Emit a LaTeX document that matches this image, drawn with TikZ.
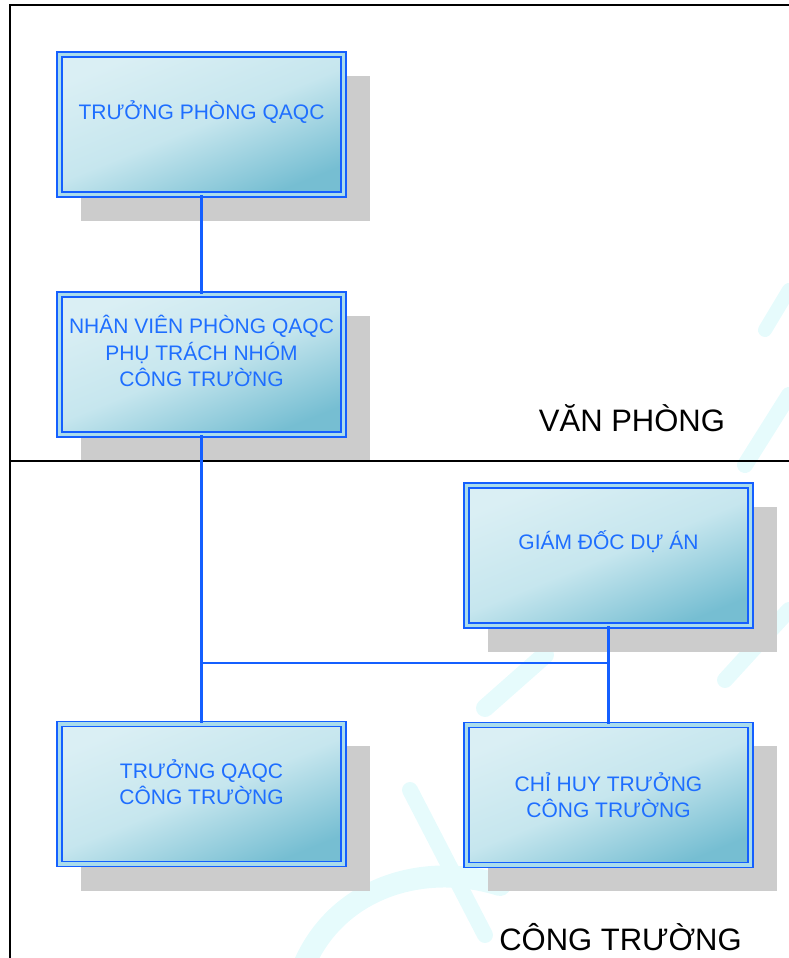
\documentclass[tikz,border=0pt]{standalone}
\usepackage{fontspec}
\setmainfont{Liberation Sans}
\definecolor{bordblue}{RGB}{20,95,255}
\definecolor{txtblue}{RGB}{30,110,255}
\definecolor{band}{RGB}{170,220,235}
\definecolor{boxlight}{RGB}{218,239,244}
\definecolor{boxmid}{RGB}{198,230,238}
\definecolor{boxdark}{RGB}{118,190,210}
\definecolor{shadowgray}{RGB}{204,204,204}
\definecolor{wmark}{RGB}{230,251,252}
\tikzset{
  orgbox/.style={rectangle, minimum width=284pt, minimum height=140pt, inner sep=0pt,
    draw=bordblue, line width=1.8pt, double=band, double distance=3.2pt,
    top color=boxlight, bottom color=boxdark, middle color=boxmid, shading angle=22},
  shadowbox/.style={rectangle, minimum width=289pt, minimum height=145pt, inner sep=0pt,
    fill=shadowgray, draw=none},
  boxtext/.style={text=txtblue, font=\fontsize{21}{26.5}\selectfont, align=center, inner sep=0pt},
  biglabel/.style={text=black, font=\fontsize{31}{36}\selectfont, inner sep=0pt},
  conn/.style={draw=bordblue, line width=2.2pt},
  frameline/.style={draw=black, line width=2pt},
  wm/.style={draw=wmark, line width=22pt, line cap=round}
}
\begin{document}
\begin{tikzpicture}[x=1pt,y=-1pt]
\useasboundingbox (0,0) rectangle (789,958);
% watermark
\begin{scope}
\clip (0,0) rectangle (789,958);
\draw[wm] (300,975) .. controls (330,890) and (420,860) .. (500,885);
\draw[wm, line width=16pt] (410,790) -- (485,935);
\draw[wm, line width=18pt] (485,708) -- (545,655);
\draw[wm, line width=16pt] (725,680) -- (789,610);
\draw[wm, line width=16pt] (745,465) -- (789,395);
\draw[wm, line width=14pt] (765,330) -- (789,290);
\end{scope}
% shadows
\node[shadowbox] (s1) at (225.5,148.5) {};
\node[shadowbox] (s2) at (225.5,388) {};
\node[shadowbox] (s3) at (632.5,579.5) {};
\node[shadowbox] (s4) at (225.5,818) {};
\node[shadowbox] (s5) at (632.5,818.5) {};
% frame
\coordinate (ftl) at (9.5,5);
\coordinate (fbl) at (9.5,958);
\coordinate (ftr) at (789,5);
\coordinate (dl) at (9.5,460.5);
\coordinate (dr) at (789,460.5);
\draw[frameline] (fbl) -- (ftl) -- (ftr);
\draw[frameline] (dl) -- (dr);
% boxes
\node[orgbox] (b1) at (201.5,124.5) {};
\node[orgbox] (b2) at (201.5,364.5) {};
\node[orgbox] (b3) at (608.5,555.5) {};
\node[orgbox] (b4) at (201.5,794) {};
\node[orgbox] (b5) at (608.5,795) {};
% connectors
\coordinate (jn) at (0,663);
\draw[conn] (b1.south) -- (b2.north);
\draw[conn] (b2.south) -- (b4.north);
\draw[conn] (b3.south) -- (b5.north);
\draw[conn] (b2.south |- jn) -- (b3.south |- jn);
% texts
\node[boxtext] (t1) at (201.5,112) {TRƯỞNG PHÒNG QAQC};
\node[boxtext] (t2) at (201.5,351) {NHÂN VIÊN PHÒNG QAQC\\PHỤ TRÁCH NHÓM\\CÔNG TRƯỜNG};
\node[boxtext] (t3) at (608.5,542) {GIÁM ĐỐC DỰ ÁN};
\node[boxtext] (t4) at (201.5,782) {TRƯỞNG QAQC\\CÔNG TRƯỜNG};
\node[boxtext] (t5) at (608.5,795) {CHỈ HUY TRƯỞNG\\CÔNG TRƯỜNG};
\node[biglabel] (vp) at (632,418) {VĂN PHÒNG};
\node[biglabel] (ct) at (620.5,937) {CÔNG TRƯỜNG};
\end{tikzpicture}
\end{document}
